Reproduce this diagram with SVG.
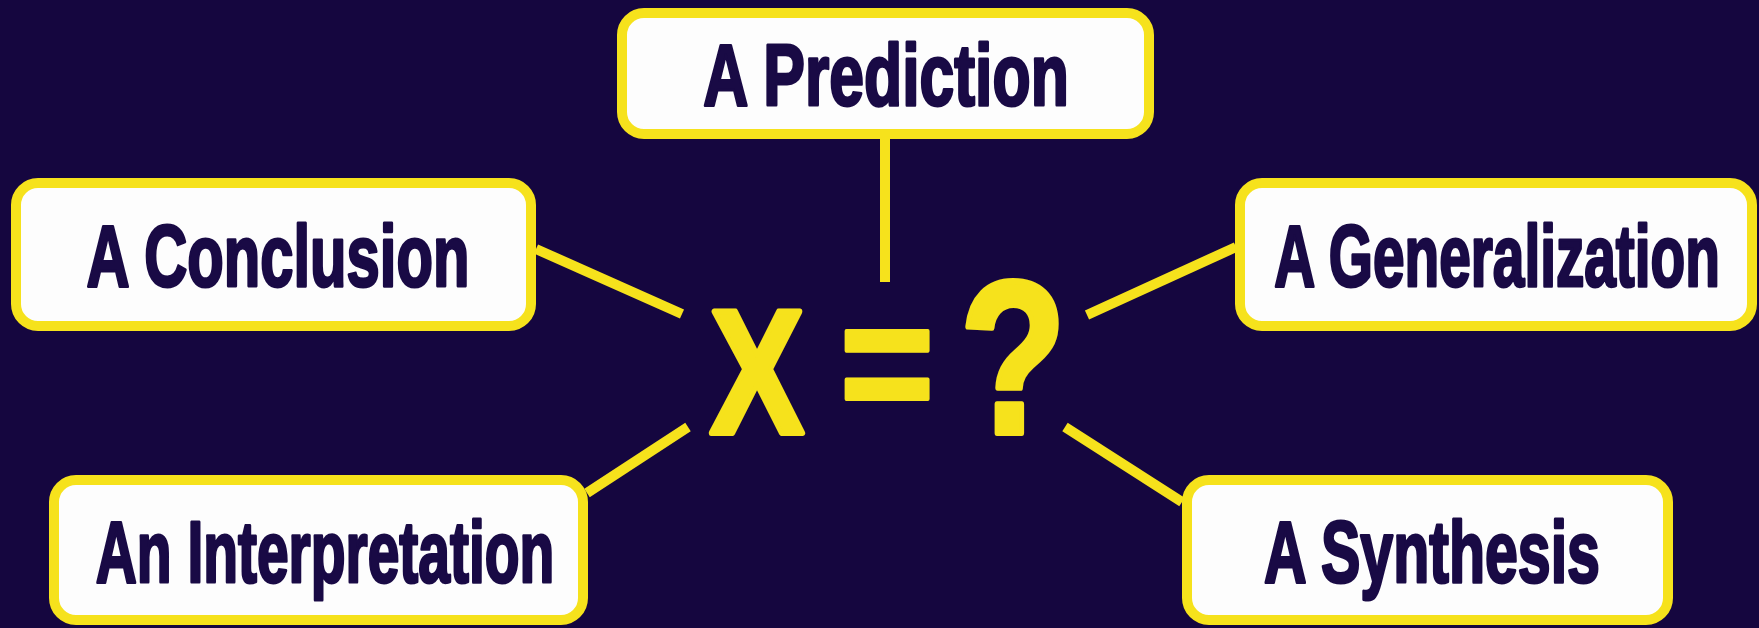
<svg xmlns="http://www.w3.org/2000/svg" width="1759" height="628" viewBox="0 0 1759 628">
<style>
.box{fill:#fdfdfd;stroke:#f6e21c;stroke-width:10}
.lbl{font-family:"Liberation Sans",Arial,sans-serif;font-weight:bold;font-size:88px;fill:#190a45;stroke:#190a45;stroke-width:3;stroke-linejoin:round;text-anchor:middle}
.eq{font-family:"Liberation Sans",Arial,sans-serif;font-weight:bold;fill:#f6e21c;stroke:#f6e21c;stroke-linejoin:round;text-anchor:middle}
.con{stroke:#f6e21c;stroke-width:10;stroke-linecap:butt;fill:none}
</style>
<rect width="1759" height="628" fill="#15063f"/>
<g id="connectors">
<line class="con" x1="885" y1="136" x2="885" y2="282"/>
<line class="con" x1="536" y1="249" x2="682" y2="314"/>
<line class="con" x1="1087" y1="315" x2="1236" y2="247"/>
<line class="con" x1="587" y1="493" x2="688" y2="427"/>
<line class="con" x1="1065" y1="427" x2="1182" y2="502"/>
</g>
<g id="center">
<text class="eq" transform="translate(757,433) scale(0.8,1)" font-size="176" stroke-width="6">X</text>
<text class="eq" transform="translate(887,425) scale(0.9,1)" font-size="180" stroke-width="4">=</text>
<text class="eq" transform="translate(1013,433) scale(0.8,1)" font-size="218" stroke-width="6">?</text>
</g>
<g id="prediction">
<rect class="box" x="622" y="13" width="527" height="121" rx="22"/>
<text class="lbl" transform="translate(886,105) scale(0.71,1)">A Prediction</text>
</g>
<g id="conclusion">
<rect class="box" x="16" y="183" width="515" height="143" rx="22"/>
<text class="lbl" transform="translate(278,286) scale(0.679,1)">A Conclusion</text>
</g>
<g id="generalization">
<rect class="box" x="1240" y="183" width="512" height="143" rx="22"/>
<text class="lbl" transform="translate(1497,286) scale(0.645,1)">A Generalization</text>
</g>
<g id="interpretation">
<rect class="box" x="54" y="480" width="529" height="140" rx="22"/>
<text class="lbl" transform="translate(325,582) scale(0.647,1)">An Interpretation</text>
</g>
<g id="synthesis">
<rect class="box" x="1187" y="480" width="481" height="140" rx="22"/>
<text class="lbl" transform="translate(1432,582) scale(0.671,1)">A Synthesis</text>
</g>
</svg>
